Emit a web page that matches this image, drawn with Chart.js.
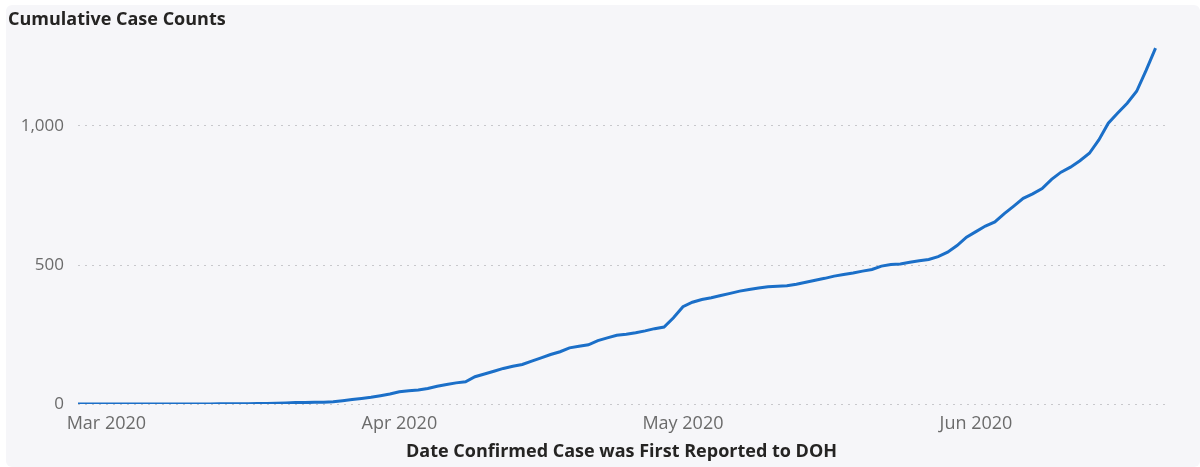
<!DOCTYPE html>
<html>
<head>
<meta charset="utf-8">
<script src="https://cdn.jsdelivr.net/npm/chart.js@4.4.1/dist/chart.umd.min.js"></script>
<style>
  html,body{margin:0;padding:0;background:#fff;}
  #card{position:absolute;left:6px;top:5px;right:0;bottom:0;background:#f6f6f9;border-radius:6px;}
  #c{position:absolute;left:0;top:0;}
</style>
</head>
<body>
<div id="card"></div>
<canvas id="c" width="1200" height="467"></canvas>
<script>
const FONT = "'Open Sans',sans-serif";

// report dates (daily)
const dates = [
  '2020-02-27','2020-02-28','2020-02-29',
  '2020-03-01','2020-03-02','2020-03-03','2020-03-04','2020-03-05','2020-03-06','2020-03-07','2020-03-08','2020-03-09','2020-03-10',
  '2020-03-11','2020-03-12','2020-03-13','2020-03-14','2020-03-15','2020-03-16','2020-03-17','2020-03-18','2020-03-19','2020-03-20',
  '2020-03-21','2020-03-22','2020-03-23','2020-03-24','2020-03-25','2020-03-26','2020-03-27','2020-03-28','2020-03-29','2020-03-30','2020-03-31',
  '2020-04-01','2020-04-02','2020-04-03','2020-04-04','2020-04-05','2020-04-06','2020-04-07','2020-04-08','2020-04-09','2020-04-10',
  '2020-04-11','2020-04-12','2020-04-13','2020-04-14','2020-04-15','2020-04-16','2020-04-17','2020-04-18','2020-04-19','2020-04-20',
  '2020-04-21','2020-04-22','2020-04-23','2020-04-24','2020-04-25','2020-04-26','2020-04-27','2020-04-28','2020-04-29','2020-04-30',
  '2020-05-01','2020-05-02','2020-05-03','2020-05-04','2020-05-05','2020-05-06','2020-05-07','2020-05-08','2020-05-09','2020-05-10',
  '2020-05-11','2020-05-12','2020-05-13','2020-05-14','2020-05-15','2020-05-16','2020-05-17','2020-05-18','2020-05-19','2020-05-20',
  '2020-05-21','2020-05-22','2020-05-23','2020-05-24','2020-05-25','2020-05-26','2020-05-27','2020-05-28','2020-05-29','2020-05-30','2020-05-31',
  '2020-06-01','2020-06-02','2020-06-03','2020-06-04','2020-06-05','2020-06-06','2020-06-07','2020-06-08','2020-06-09','2020-06-10',
  '2020-06-11','2020-06-12','2020-06-13','2020-06-14','2020-06-15','2020-06-16','2020-06-17','2020-06-18','2020-06-19','2020-06-20'
];

// cumulative cases
const cases = [
  0,0,0,
  0,0,0,0,0,0,0,0,0,0,
  0,0,1,1,1,1,2,2,3,4,
  5,5,6,6,8,12,16,20,24,30,36,
  44,48,50,56,64,70,76,80,98,108,
  118,128,136,142,154,166,178,188,202,208,
  213,228,238,247,251,256,263,271,277,310,
  350,366,376,382,390,398,406,412,417,422,
  424,425,431,438,445,452,460,466,471,478,
  484,496,502,504,510,515,520,530,546,570,600,
  620,640,655,685,712,740,756,775,808,834,
  852,875,902,950,1010,1047,1082,1125,1200,1280
];

const monthNames = ['Jan','Feb','Mar','Apr','May','Jun','Jul','Aug','Sep','Oct','Nov','Dec'];
const yTicks = [0,500,1000];

const monthStarts = dates.map((d,i)=>d.endsWith('-01')?i:-1).filter(i=>i>=0);
const monthLabel = i=>{
  const [y,m] = dates[i].split('-');
  return monthNames[+m-1]+' '+y;
};

new Chart(document.getElementById('c'),{
  type:'line',
  data:{datasets:[{
    data:cases.map((v,i)=>({x:i,y:v})),
    borderColor:'#1b6fc8',
    borderWidth:3,
    pointRadius:0,
    tension:0,
    fill:false
  }]},
  options:{
    responsive:false,
    animation:false,
    layout:{padding:{left:8,right:35,top:0,bottom:0}},
    plugins:{
      legend:{display:false},
      tooltip:{enabled:false},
      title:{
        display:true,text:'Cumulative Case Counts',align:'start',
        color:'#252423',font:{family:FONT,size:18,weight:'bold'},
        padding:{top:9,bottom:12}
      }
    },
    scales:{
      x:{
        type:'linear',min:0,max:115,
        afterBuildTicks:s=>{s.ticks=monthStarts.map(v=>({value:v}));},
        afterFit:s=>{s.height=63;},
        grid:{display:false},
        border:{display:false},
        ticks:{
          callback:v=>monthLabel(v),
          autoSkip:false,maxRotation:0,padding:1,
          color:'#6b6b6b',font:{family:FONT,size:18}
        },
        title:{
          display:true,text:'Date Confirmed Case was First Reported to DOH',
          color:'#252423',font:{family:FONT,size:18,weight:'bold'},
          padding:{top:0,bottom:4}
        }
      },
      y:{
        min:0,max:1300,
        afterBuildTicks:s=>{s.ticks=yTicks.map(v=>({value:v}));},
        afterFit:s=>{s.width=70;},
        grid:{color:'#c8c8cc',lineWidth:1,drawTicks:false},
        border:{display:false,dash:[2,5]},
        ticks:{
          padding:14,
          color:'#6b6b6b',font:{family:FONT,size:17},
          callback:v=>v.toLocaleString('en-US')
        }
      }
    }
  }
});
</script>
</body>
</html>
